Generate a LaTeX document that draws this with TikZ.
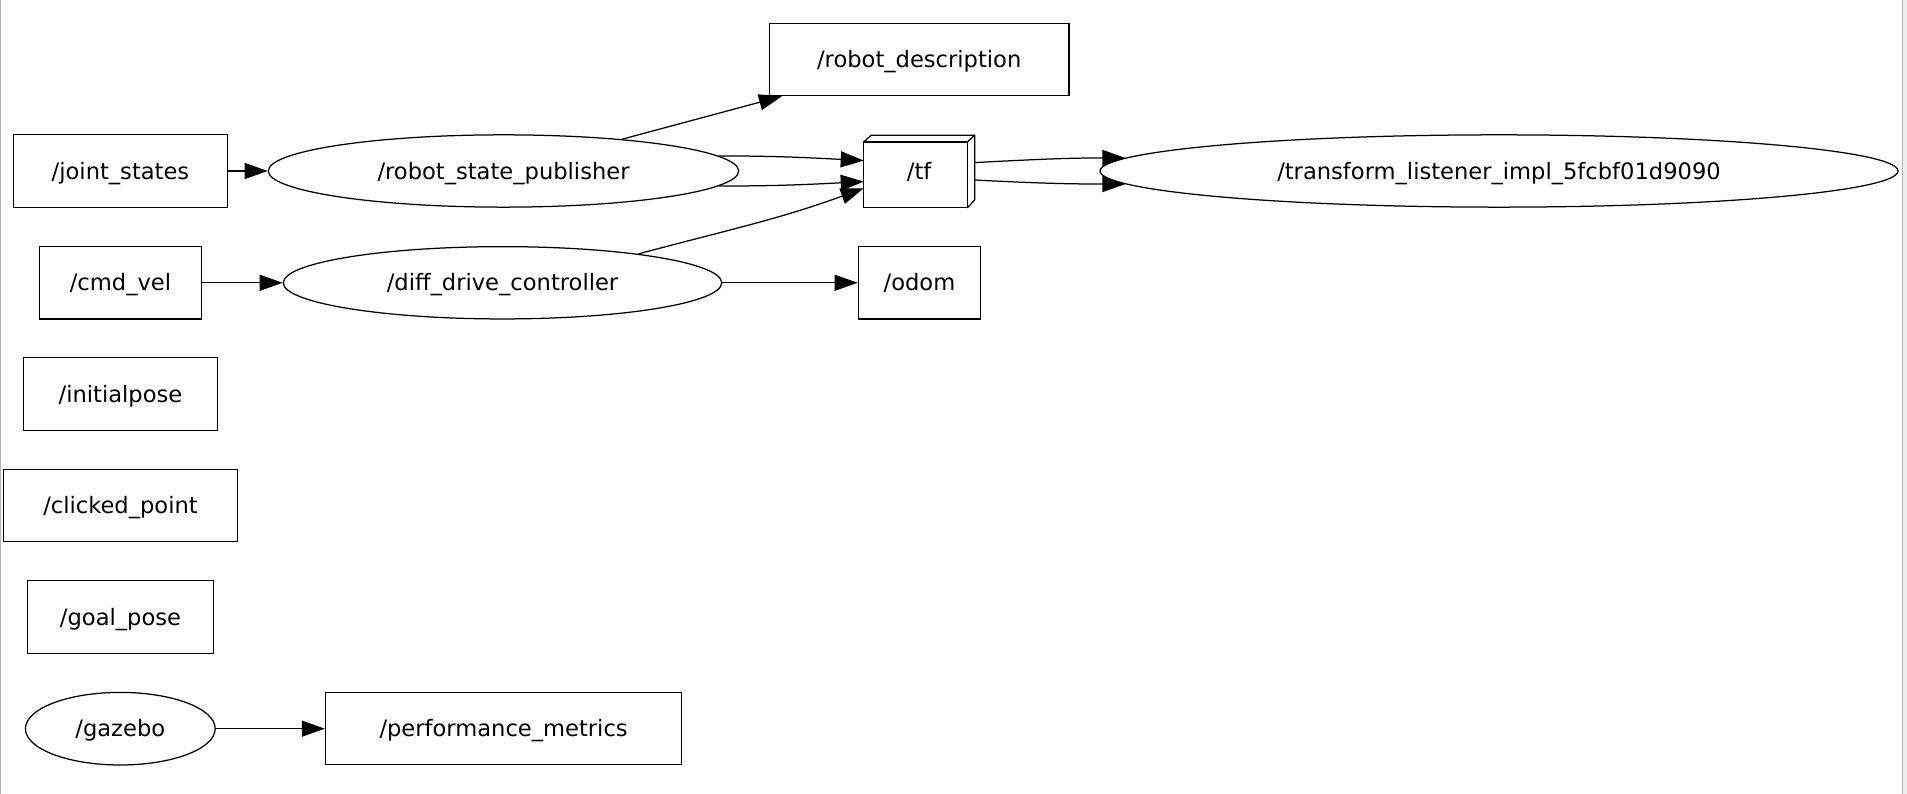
\documentclass[tikz,border=0pt]{standalone}
\usepackage{fontspec}
\setmainfont{DejaVu Sans}
\usepackage{tikz}
\usetikzlibrary{calc,shapes.geometric,arrows.meta}
\usepackage{xcolor}
\definecolor{frameline}{HTML}{B4B4B4}
\definecolor{framefill}{HTML}{EFEFEF}

\begin{document}
\begin{tikzpicture}[x=1pt,y=1pt,line width=1.25pt,
        every node/.style={font=\fontsize{22.6}{27}\selectfont,inner sep=0pt,text height=20pt,text depth=3.6pt},
        topic/.style={draw,rectangle,minimum height=72.3pt},
        rosnode/.style={draw,ellipse,minimum height=72.3pt},
        edge/.style={-{Triangle[length=23pt,width=16pt]}}]
        \useasboundingbox (0,0) rectangle (1907,794);
        \fill[framefill] (1903.3,0) rectangle (1907,794);
        \draw[frameline,line width=1.3pt] (0.7,0)--(0.7,794);
        \draw[frameline,line width=1.3pt] (1902.6,0)--(1902.6,794);
        \node[topic,minimum width=299.7pt] (rdesc) at (919.2,734.5) {/robot\_description};
        \node[topic,minimum width=213.6pt] (joint) at (120.5,623) {/joint\_states};
        \node[rosnode,minimum width=470.4pt] (rsp) at (503.5,623) {/robot\_state\_publisher};
        \node[minimum width=109.7pt,minimum height=71.3pt] (tf) at (919.2,622.4) {/tf};
        \node[rosnode,minimum width=798pt] (tl) at (1499,623) {/transform\_listener\_impl\_5fcbf01d9090};
        \node[topic,minimum width=161.6pt] (cmd) at (120.5,511.2) {/cmd\_vel};
        \node[rosnode,minimum width=438.4pt] (diff) at (502.5,511.2) {/diff\_drive\_controller};
        \node[topic,minimum width=122.4pt] (odom) at (919.5,511.2) {/odom};
        \foreach \n/\t/\w/\y in {init/initialpose/194.7/400,clicked/clicked\_point/234/288.3,goal/goal\_pose/186.6/177}{
            \node[topic,minimum width=\w pt] (\n) at (120.5,\y) {/\t};
            }
        \node[rosnode,minimum width=189.8pt,minimum height=72.6pt] (gazebo) at (120.3,65.3) {/gazebo};
        \node[topic,minimum width=356.3pt] (perf) at (503.6,65.3) {/performance\_metrics};
        \draw (tf.south west) rectangle ($(tf.north east)+(-7.3,-6.7)$);
        \draw ($(tf.north west)+(0,-6.7)$)--++(7.3,6.7)--(tf.north east)--++(0,-64.6)--($(tf.south east)+(-7.3,0)$);
        \draw ($(tf.north east)+(-7.3,-6.7)$)--(tf.north east);
        \draw[edge] (joint)--(rsp);
        \draw[edge] (rsp.15)--(rdesc.195);
        \draw[edge] (rsp.4) to[out=0,in=177] ($(tf.west)+(0,11)$);
        \draw[edge] (rsp.-4) to[out=0,in=183] ($(tf.west)+(0,-10)$);
        \draw[edge] (diff.12) to[out=15,in=200] ($(tf.west)+(0,-16.7)$);
        \draw[edge] ($(tf.east)+(0,9)$) to[out=3,in=180] (tl.178);
        \draw[edge] ($(tf.east)+(0,-8.4)$) to[out=-3,in=180] (tl.182);
        \draw[edge] (cmd)--(diff);
        \draw[edge] (diff)--(odom);
        \draw[edge] (gazebo)--(perf);
    \end{tikzpicture}
\end{document}
